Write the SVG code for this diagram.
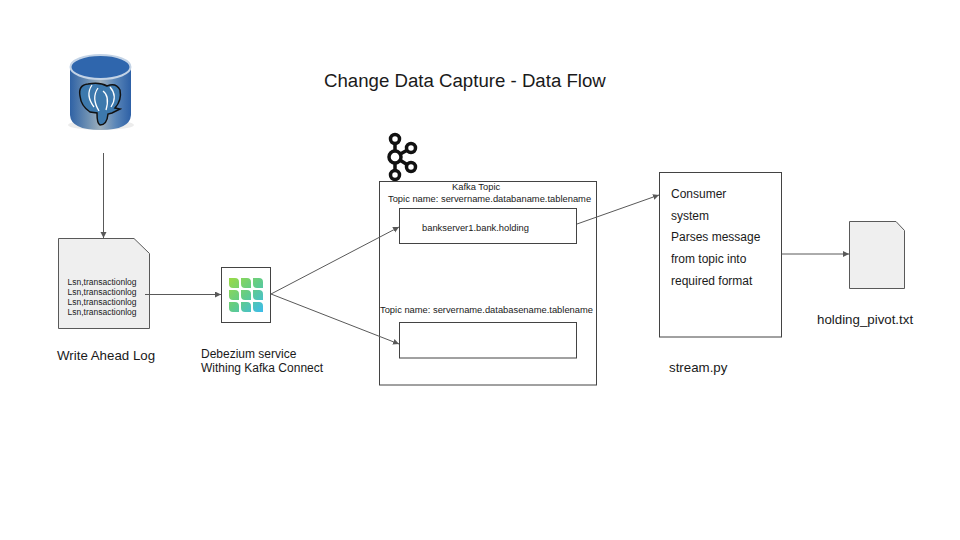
<svg xmlns="http://www.w3.org/2000/svg" width="960" height="540" viewBox="0 0 960 540">
<style>
text{font-family:"Liberation Sans",Arial,sans-serif;fill:#1a1a1a}
.box{fill:#fff;stroke:#434343;stroke-width:1}
.doc{fill:#efefef;stroke:#595959;stroke-width:1}
.c{fill:none;stroke:#595959;stroke-width:1}
.t8{font-size:8.5px}.t9{font-size:9.35px}.t12{font-size:12px}.t13{font-size:13.3px}
.ring{fill:#fff;stroke:#111;stroke-width:3.5}
</style>
<defs>
<marker id="a" markerUnits="userSpaceOnUse" markerWidth="8" markerHeight="8" refX="6" refY="3" orient="auto"><path d="M0 0L6 3L0 6z" fill="#595959"/></marker>
<linearGradient id="cyl" x1="0" x2="1" y1="0" y2="0"><stop offset="0" stop-color="#2f62a5"/><stop offset=".3" stop-color="#6f91b3"/><stop offset=".5" stop-color="#9fb0bd"/><stop offset=".75" stop-color="#5a86b8"/><stop offset="1" stop-color="#2d60a6"/></linearGradient>
<linearGradient id="leaf" gradientUnits="userSpaceOnUse" x1="229" y1="278" x2="263" y2="312"><stop offset="0" stop-color="#9adb45"/><stop offset=".5" stop-color="#62cc88"/><stop offset="1" stop-color="#3cbcec"/></linearGradient>
</defs>
<rect width="960" height="540" fill="#fff"/>
<text x="324" y="87" font-size="18.65">Change Data Capture - Data Flow</text>
<g id="postgres">
<ellipse cx="101" cy="125" rx="33" ry="5" fill="#e4e4e4" opacity=".7"/>
<path d="M70 67V115Q71 130 100.500 130Q130 130 131 115V67Z" fill="url(#cyl)"/>
<ellipse cx="100.500" cy="67" rx="30" ry="12" fill="#2f66ad" stroke="#c3d3e6" stroke-width="2"/>
<path d="M80 96Q78 85 88 84Q100 82 107 86Q116 82 120 90Q122 100 115 108L120 109L112 113L108 114Q107 125 100 125Q97 124 97 113L90 112Q81 106 80 96Z" fill="#3d79ad" stroke="#111" stroke-width="1.500"/>
<path d="M92 85Q85 95 94 107M98 88Q91 98 99 111M110 87Q118 96 111 107M103 91Q110 96 106 110" fill="none" stroke="#fff" stroke-width="1.300"/>
</g>
<g id="wal">
<path class="doc" d="M58.500 238.500H134L149.500 253.500V328.500H58.500Z"/>
<text class="t8" x="67.500" y="285">Lsn,transactionlog</text>
<text class="t8" x="67.500" y="295">Lsn,transactionlog</text>
<text class="t8" x="67.500" y="305">Lsn,transactionlog</text>
<text class="t8" x="67.500" y="315">Lsn,transactionlog</text>
<text class="t13" x="57" y="360">Write Ahead Log</text>
</g>
<g id="debezium">
<rect class="box" x="221.500" y="267.500" width="49" height="55"/>
<path fill="url(#leaf)" d="M229 278H235Q239 278 239 282V288H233Q229 288 229 284ZM241 278H247Q251 278 251 282V288H245Q241 288 241 284ZM253 278H259Q263 278 263 282V288H257Q253 288 253 284ZM229 290H235Q239 290 239 294V300H233Q229 300 229 296ZM241 290H247Q251 290 251 294V300H245Q241 300 241 296ZM253 290H259Q263 290 263 294V300H257Q253 300 253 296ZM229 302H235Q239 302 239 306V312H233Q229 312 229 308ZM241 302H247Q251 302 251 306V312H245Q241 312 241 308ZM253 302H259Q263 302 263 306V312H257Q253 312 253 308Z"/>
<text class="t12" x="201" y="358">Debezium service</text>
<text class="t12" x="201" y="372">Withing Kafka Connect</text>
</g>
<g id="kafka-logo">
<path d="M395 140V178M395 157L411 148M395 157L411 167" stroke="#111" stroke-width="3.500" fill="none"/>
<circle class="ring" cx="395" cy="139" r="4.500"/>
<circle class="ring" cx="395" cy="157" r="6" stroke-width="4"/>
<circle class="ring" cx="411" cy="148" r="4.500"/>
<circle class="ring" cx="411" cy="167" r="4.500"/>
<circle class="ring" cx="395" cy="175" r="4.500"/>
</g>
<g id="kafka-topic">
<rect class="box" x="379.500" y="181.500" width="217" height="203.500"/>
<text class="t9" x="452" y="190">Kafka Topic</text>
<text class="t9" x="388" y="202">Topic name: servername.databaname.tablename</text>
<text class="t9" x="380" y="313">Topic name: servername.databasename.tablename</text>
</g>
<g id="topic-1">
<rect class="box" x="399.500" y="208.500" width="177" height="35"/>
<text class="t9" x="422" y="231">bankserver1.bank.holding</text>
</g>
<g id="topic-2">
<rect class="box" x="399.500" y="322.500" width="177" height="35.500"/>
</g>
<g id="consumer">
<rect class="box" x="659.500" y="172.500" width="122" height="164.500"/>
<text class="t12" x="671" y="198">Consumer</text>
<text class="t12" x="671" y="220">system</text>
<text class="t12" x="671" y="241">Parses message</text>
<text class="t12" x="671" y="263">from topic into</text>
<text class="t12" x="671" y="285">required format</text>
<text class="t13" x="669" y="372">stream.py</text>
</g>
<g id="output-file">
<path class="doc" d="M849.500 221.500H896L904.500 230.500V288.500H849.500Z"/>
<text class="t13" x="817" y="324">holding_pivot.txt</text>
</g>
<g id="connectors">
<path class="c" marker-end="url(#a)" d="M103.500 153V238"/>
<path class="c" marker-end="url(#a)" d="M145 294.500H221"/>
<path class="c" marker-end="url(#a)" d="M271 294L399 227"/>
<path class="c" marker-end="url(#a)" d="M271 294L399 344"/>
<path class="c" marker-end="url(#a)" d="M577 224L659 195"/>
<path class="c" marker-end="url(#a)" d="M781.500 254H849"/>
</g>
</svg>
